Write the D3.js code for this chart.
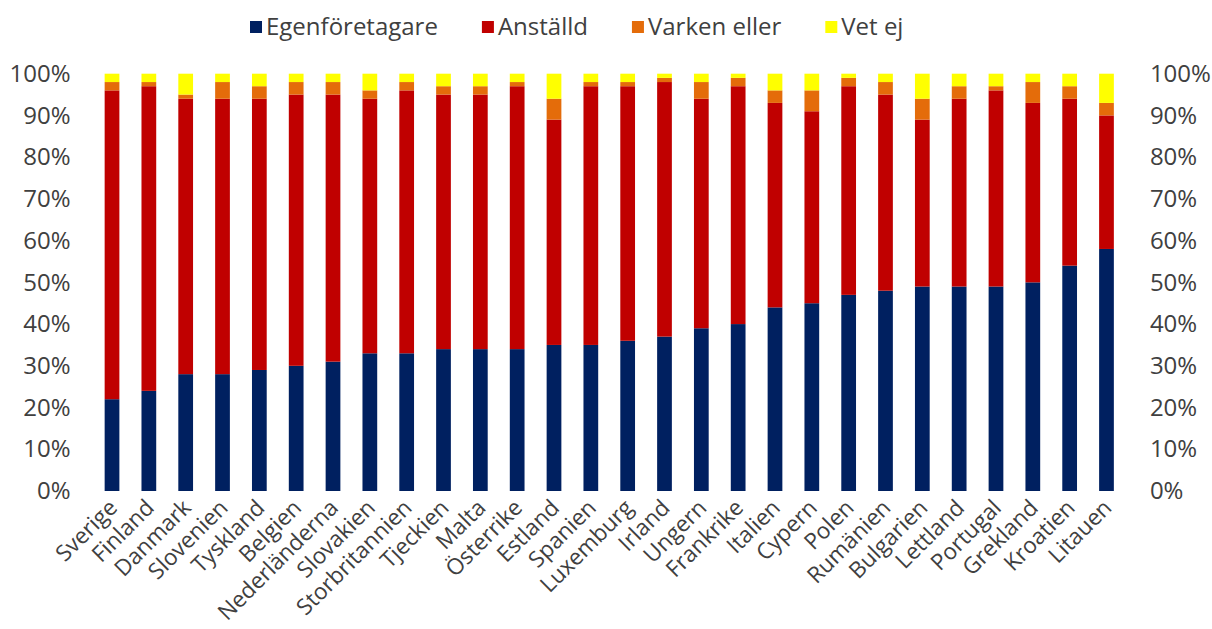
<!DOCTYPE html>
<html>
<head>
<meta charset="utf-8">
<script src="https://cdn.jsdelivr.net/npm/d3@7"></script>
<style>
  body { margin: 0; background: #fff; }
  svg text { font-family: "Open Sans", Lato, sans-serif; fill: #404040; }
</style>
</head>
<body>
<div id="chart"></div>
<script>
var countries = ['Sverige','Finland','Danmark','Slovenien','Tyskland','Belgien','Nederländerna',
  'Slovakien','Storbritannien','Tjeckien','Malta','Österrike','Estland','Spanien','Luxemburg',
  'Irland','Ungern','Frankrike','Italien','Cypern','Polen','Rumänien','Bulgarien','Lettland',
  'Portugal','Grekland','Kroatien','Litauen'];
var egen    = [22,24,28,28,29,30,31,33,33,34,34,34,35,35,36,37,39,40,44,45,47,48,49,49,49,50,54,58];
var anstalld= [74,73,66,66,65,65,64,61,63,61,61,63,54,62,61,61,55,57,49,46,50,47,40,45,47,43,40,32];
var varken  = [2,1,1,4,3,3,3,2,2,2,2,1,5,1,1,1,4,2,3,5,2,3,5,3,1,5,3,3];
var vetej   = [2,2,5,2,3,2,2,4,2,3,3,2,6,2,2,1,2,1,4,4,1,2,6,3,3,2,3,7];
var seriesNames = ['Egenföretagare','Anställd','Varken eller','Vet ej'];
var yTicks = [0,10,20,30,40,50,60,70,80,90,100];

var colors = ['#002060','#C00000','#E46C0A','#FFFF00'];

var width = 1212, height = 629;
var margin = {top:73.7, left:93.6, right:1124.9, bottom:491};

var table = countries.map(function(c,i){
  return {country:c, 'Egenföretagare':egen[i], 'Anställd':anstalld[i],
          'Varken eller':varken[i], 'Vet ej':vetej[i]};
});
var stacked = d3.stack().keys(seriesNames)(table);

var svg = d3.select('#chart').append('svg')
  .attr('width',width)
  .attr('height',height);

var xScale = d3.scaleBand()
  .domain(countries)
  .range([margin.left, margin.right])
  .paddingInner(0.6)
  .paddingOuter(0.3);

var yScale = d3.scaleLinear()
  .domain([0,100])
  .range([margin.bottom, margin.top]);

// bars
svg.append('g').selectAll('g').data(stacked)
  .enter().append('g')
    .attr('fill', function(d,i){ return colors[i]; })
  .selectAll('rect').data(function(d){ return d; })
  .enter().append('rect')
    .attr('x', function(d){ return xScale(d.data.country); })
    .attr('width', xScale.bandwidth())
    .attr('y', function(d){ return yScale(d[1]); })
    .attr('height', function(d){ return yScale(d[0]) - yScale(d[1]); });

// y axes, left and right
var fmt = function(d){ return d + '%'; };
var vLeft = svg.append('g')
  .attr('transform','translate(' + margin.left + ',0)')
  .call(d3.axisLeft(yScale).tickValues(yTicks).tickFormat(fmt).tickSize(0).tickPadding(23));
var vRight = svg.append('g')
  .attr('transform','translate(' + margin.right + ',0)')
  .call(d3.axisRight(yScale).tickValues(yTicks).tickFormat(fmt).tickSize(0).tickPadding(25));
[vLeft, vRight].forEach(function(g){
  g.select('.domain').remove();
  g.selectAll('text')
    .style('font-size','24px')
    .attr('fill','#404040')
    .attr('font-family', null);
});

// x labels
var hGuide = svg.append('g')
  .attr('transform','translate(0,' + margin.bottom + ')')
  .call(d3.axisBottom(xScale).tickSize(0).tickPadding(0));
hGuide.select('.domain').remove();
hGuide.selectAll('text')
  .style('font-size','22.5px')
  .attr('fill','#404040')
  .attr('font-family', null)
  .attr('text-anchor','end')
  .attr('y', 0)
  .attr('dy', '0.7em')
  .attr('transform','translate(-4.5,7) rotate(-45)');

// legend
var legend = svg.append('g').attr('transform','translate(250,27)');
var lx = 0;
seriesNames.forEach(function(name,i){
  var item = legend.append('g').attr('transform','translate(' + lx + ',0)');
  item.append('rect')
    .attr('x',0).attr('y',-6)
    .attr('width',12).attr('height',12)
    .attr('fill',colors[i]);
  var t = item.append('text')
    .attr('x',16).attr('y',0)
    .attr('dy','0.35em')
    .style('font-size','24px')
    .text(name);
  lx += 16 + t.node().getComputedTextLength() + 44;
});
</script>
</body>
</html>
